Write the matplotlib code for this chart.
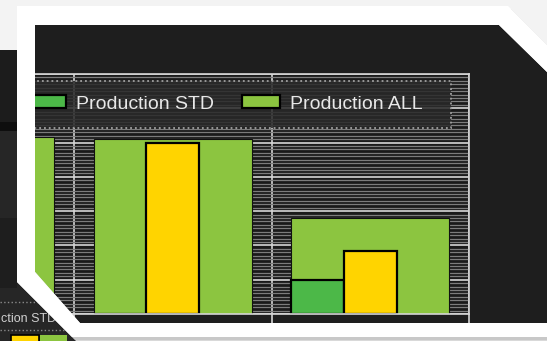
import numpy as np
import matplotlib.pyplot as plt
from matplotlib import font_manager
from matplotlib.patches import Polygon, PathPatch, Rectangle
from matplotlib.path import Path

# Datos de las barras (tres grupos, el primero queda cortado por el marco)
grupos = [0, 1, 2]
prod_all = [51.5, 51, 28]
prod_std = [0, 0, 10]
prod_amarillo = [50, 50, 18.5]
etiquetas = ['Production STD', 'Production ALL']

# Colores
verde_claro = '#8cc540'
verde_oscuro = '#4cb848'
amarillo = '#ffd400'
fondo_panel = '#1e1e1e'

W, H = 547, 341
fig = plt.figure(figsize=(W / 100, H / 100), dpi=100, facecolor=fondo_panel)

# Fuente estrecha si existe
nombres = {f.name for f in font_manager.fontManager.ttflist}
estrecha = 'Liberation Sans Narrow' in nombres
fuente = 'Liberation Sans Narrow' if estrecha else 'Liberation Sans'

# Area del grafico en pixeles
x0, x1, y0, y1 = 35, 469, 74, 314
px_grupo = 197.5
ax = fig.add_axes([x0 / W, 1 - y1 / H, (x1 - x0) / W, (y1 - y0) / H])
ax.set_facecolor('#1a1a1a')
ax.set_xlim(2.5 - (x1 - x0) / px_grupo, 2.5)
ax.set_ylim(0, 70)

# Barras: ALL ancha detras, STD y la amarilla delante
x = np.array(grupos)
ancho = 0.8 / 3
b_all = ax.bar(x, prod_all, width=0.8, color=verde_claro, edgecolor='#111111',
               linewidth=0.8, zorder=2)
b_std = ax.bar(x - ancho, prod_std, width=ancho, color=verde_oscuro,
               edgecolor='black', linewidth=1.6, zorder=3)
ax.bar(x, prod_amarillo, width=ancho, color=amarillo, edgecolor='black',
       linewidth=1.6, zorder=3)

# Rejilla: lineas finas cada unidad y blancas cada 10
ax.set_axisbelow(True)
ax.set_yticks(np.arange(0, 71, 10))
ax.set_yticks(np.arange(0, 71, 1), minor=True)
ax.grid(axis='y', which='minor', color='#7c7c7c', linewidth=0.9)
ax.grid(axis='y', which='major', color='#d6d6d6', linewidth=1.2)
ax.set_xticks([0.5, 1.5, 2.5])
ax.grid(axis='x', which='major', color='#d6d6d6', linewidth=1.2)
ax.tick_params(axis='x', direction='out', length=6.5, width=1.2, color='#d6d6d6',
               labelbottom=False)
ax.tick_params(axis='y', which='both', left=False, labelleft=False)
ax.spines['left'].set_visible(False)
for lado in ['top', 'right', 'bottom']:
    ax.spines[lado].set_color('#d6d6d6')
    ax.spines[lado].set_linewidth(1.2)
    ax.spines[lado].set_zorder(4)

# Caja punteada de la leyenda
def ax_x(px):
    return (px - x0) / (x1 - x0)

def ax_y(py):
    return (y1 - py) / (y1 - y0)

caja = Rectangle((ax_x(-200), ax_y(128)), ax_x(451) - ax_x(-200), ax_y(81) - ax_y(128),
                 transform=ax.transAxes, facecolor=(0.16, 0.16, 0.16, 0.85),
                 edgecolor='#a0a0a0', linestyle=':', linewidth=1.3, zorder=5,
                 clip_on=False)
ax.add_patch(caja)

fs = 16.5 if estrecha else 14
fs_px = fs * 100 / 72
leg = ax.legend([b_std, b_all], etiquetas, ncol=2, loc='center left',
                bbox_to_anchor=(ax_x(28), ax_y(104)), frameon=False,
                borderpad=0, borderaxespad=0, handlelength=38 / fs_px,
                handleheight=12 / fs_px, handletextpad=10 / fs_px,
                columnspacing=28 / fs_px, labelcolor='#e8e8e8',
                prop={'family': fuente, 'size': fs})
leg.set_zorder(6)
for h in leg.legend_handles:
    h.set_edgecolor('black')
    h.set_linewidth(1.6)

# Capa superior: marco blanco y lo que queda fuera del panel
over = fig.add_axes([0, 0, 1, 1], zorder=10)
over.set_xlim(0, W)
over.set_ylim(H, 0)
over.axis('off')

panel = [(35, 25), (499, 25), (547, 72), (547, 323), (80, 323), (35, 272)]
exterior = [(17, 6), (508, 6), (570, 68), (570, 337), (72, 337), (17, 282)]
lienzo = [(0, 0), (W, 0), (W, H), (0, H)]


def con_agujero(fuera, dentro):
    verts, codes = [], []
    for anillo in [fuera, dentro[::-1]]:
        verts += list(anillo) + [anillo[0]]
        codes += [Path.MOVETO] + [Path.LINETO] * (len(anillo) - 1) + [Path.CLOSEPOLY]
    return Path(verts, codes)


over.add_patch(PathPatch(con_agujero(lienzo, panel), facecolor='#f3f3f3',
                         edgecolor='none', zorder=1))
over.add_patch(Rectangle((60, 337), W, 6, facecolor='#d9d9d9', edgecolor='none', zorder=1))

# Restos de otra ventana a la izquierda
zona = Polygon([(0, 50), (17, 50), (17, 282), (76, 341), (0, 341)], closed=True,
               facecolor='#262626', edgecolor='none', zorder=2)
over.add_patch(zona)
over.add_patch(Rectangle((0, 50), 17, 72, facecolor='#1c1c1c', edgecolor='none', zorder=2))
over.add_patch(Rectangle((0, 122), 17, 9, facecolor='#0e0e0e', edgecolor='none', zorder=2))
over.add_patch(Rectangle((0, 218), 17, 70, facecolor='#1e1e1e', edgecolor='none', zorder=2))
restos = [
    over.plot([0, 80], [302, 302], color='#8a8a8a', linestyle=':', linewidth=1.0, zorder=3)[0],
    over.plot([0, 80], [330, 330], color='#8a8a8a', linestyle=':', linewidth=1.0, zorder=3)[0],
    over.add_patch(Rectangle((11, 335), 28, 10, facecolor=amarillo, edgecolor='black',
                             linewidth=1.2, zorder=3)),
    over.add_patch(Rectangle((40, 335), 27, 10, facecolor=verde_claro, edgecolor='none',
                             zorder=3)),
]
for r in restos:
    r.set_clip_path(zona)
over.text(1, 322, 'ction STD', ha='left', va='baseline', color='#d0d0d0',
          fontsize=9, family=fuente, zorder=3)

# Sombra y marco blanco
sombra = [(px + 3, py + 3) for px, py in exterior]
over.add_patch(PathPatch(con_agujero(sombra, panel), facecolor='#b8b8b8', alpha=0.5,
                         edgecolor='none', zorder=4))
over.add_patch(PathPatch(con_agujero(exterior, panel), facecolor='white',
                         edgecolor='none', zorder=5))

fig.savefig('out.png', dpi=100, facecolor=fig.get_facecolor())
